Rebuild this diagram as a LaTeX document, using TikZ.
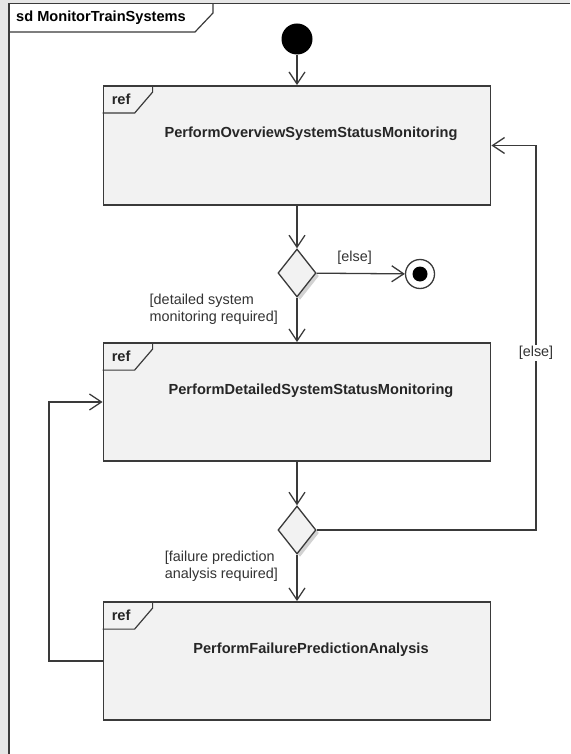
\documentclass[tikz,border=0pt]{standalone}
\usepackage{fontspec}
\setmainfont{Liberation Sans}
\usetikzlibrary{arrows.meta,positioning,calc,shapes.geometric,shadows}
\definecolor{ink}{HTML}{3A3A3A}
\definecolor{pane}{HTML}{F2F2F2}
\definecolor{canvas}{HTML}{E6E6E6}

\begin{document}
\begin{tikzpicture}[x=1pt,y=-1pt,
  flow/.style={-{Straight Barb[length=12pt,width=16pt]},line width=1.3pt,ink},
  actbox/.style={draw=ink,line width=1.8pt,fill=pane,minimum width=387pt,minimum height=118pt,inner sep=0pt},
  boxname/.style={font=\fontsize{14.6}{16}\selectfont\bfseries,text=black!85,inner sep=0pt},
  guard/.style={font=\fontsize{14.4}{16.5}\selectfont,text=black!80,align=left,inner sep=0pt},
  decision/.style={diamond,draw=ink,line width=1.3pt,fill=pane,minimum width=38pt,minimum height=48pt,inner sep=0pt,
    drop shadow={shadow xshift=3pt,shadow yshift=-3pt,fill=black!35}}]
  \useasboundingbox (0,0) rectangle (570,754);
  % frame of the sequence diagram
  \fill[canvas] (0,0) rectangle (570,754);
  \fill[white] (9,3.5) rectangle (570,754);
  \draw[ink,line width=1.5pt] (9,754) -- (9,3.5) -- (570,3.5);
  \draw[ink,line width=1.2pt] (9,32) -- (195,32) -- (213,13) -- (213,3.5);
  \node[anchor=west,font=\fontsize{14.6}{16}\selectfont\bfseries,inner sep=0pt] (title) at (16,18) {sd MonitorTrainSystems};

  \node[circle,fill=black,minimum size=31pt,inner sep=0pt] (start) at (297,39) {};
  \node[actbox,minimum height=119pt] (overview) at (297,145.5) {};
  \node[decision] (check1) at (297,273) {};
  \node[circle,draw=ink,line width=1.3pt,fill=white,minimum size=29pt,inner sep=0pt] (stop) at (420,274) {};
  \fill[black] (stop) circle (7.5pt);
  \node[actbox] (detailed) at (297,402) {};
  \node[decision] (check2) at (297,530) {};
  \node[actbox] (failure) at (297,661) {};

  % ref tabs and names
  \foreach \b/\t in {overview/PerformOverviewSystemStatusMonitoring,
                     detailed/PerformDetailedSystemStatusMonitoring,
                     failure/PerformFailurePredictionAnalysis} {
    \draw[ink,line width=1.2pt] (\b.north west) ++(50,0) -- ++(0,7) -- ++(-18,21) -- ++(-32,0);
    \node[boxname,anchor=west] (\b ref) at ([xshift=9pt,yshift=-14pt]\b.north west) {ref};
    \node[boxname] (\b name) at ([xshift=14pt,yshift=-49pt]\b.north) {\t};
  }

  \coordinate (loopright) at (536,530);
  \coordinate (loopleft) at (49,661);

  \draw[flow] (start) -- (overview);
  \draw[flow] (overview) -- (check1);
  \draw[flow] (check1) -- node[guard,above,xshift=-6pt,yshift=8pt] (else1) {[else]} (stop);
  \draw[flow] (check1) -- (detailed);
  \node[guard,anchor=north east] (detailedguard) at (278,294) {[detailed system\\monitoring required]};
  \draw[flow] (detailed) -- (check2);
  \draw[flow] (check2) -- (failure);
  \node[guard,anchor=north east] (failureguard) at (278,551) {[failure prediction\\analysis required]};
  \draw[flow] (check2) -- (loopright) |- node[guard,pos=0.23,fill=white,inner sep=1pt] (else2) {[else]} (overview);
  \draw[flow] (failure) -- (loopleft) |- (detailed);
\end{tikzpicture}
\end{document}
